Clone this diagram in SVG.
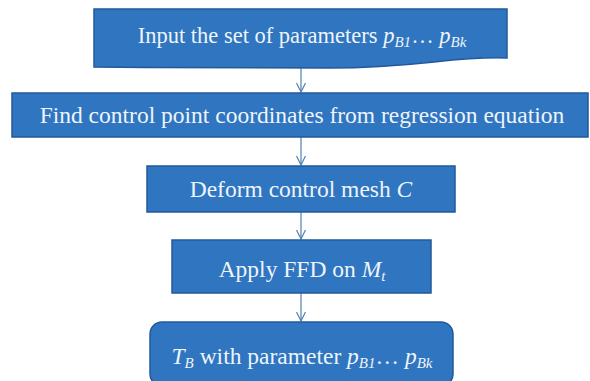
<svg xmlns="http://www.w3.org/2000/svg" width="590" height="381" viewBox="0 0 590 381">
<defs>
<style>
.box{fill:#2f75bf;stroke:#22599a;stroke-width:1.5}
.t{font-family:"Liberation Serif","Times New Roman",serif;font-size:23.5px;fill:#eef4fb;text-anchor:middle}
.i{font-style:italic}
.s{font-size:15px;font-style:italic}
.c{stroke:#4f7fb0;stroke-width:1.2;fill:none}
</style>
<marker id="ah" markerWidth="12" markerHeight="10" refX="10" refY="5" orient="auto" markerUnits="userSpaceOnUse">
<path d="M1,0.5 L10,5 L1,9.5" fill="none" stroke="#4f7fb0" stroke-width="1.2"/>
</marker>
</defs>
<rect width="590" height="381" fill="#ffffff"/>
<g id="connectors">
<line class="c" x1="301" y1="68" x2="301" y2="92" marker-end="url(#ah)"/>
<line class="c" x1="301" y1="137" x2="301" y2="165" marker-end="url(#ah)"/>
<line class="c" x1="301" y1="212" x2="301" y2="239" marker-end="url(#ah)"/>
<line class="c" x1="301" y1="293" x2="301" y2="321" marker-end="url(#ah)"/>
</g>
<g id="n1">
<path class="box" d="M94,9 H507 V58 C450,56 420,68 330,68 C240,68 170,68 94,67 Z"/>
<text class="t" x="302" y="43" style="font-size:22.5px">Input the set of parameters <tspan class="i">p</tspan><tspan class="s" dy="4">B1</tspan><tspan dy="-4">… </tspan><tspan class="i">p</tspan><tspan class="s" dy="4">Bk</tspan></text>
</g>
<g id="n2">
<rect class="box" x="12" y="93" width="576" height="44"/>
<text class="t" x="302" y="123">Find control point coordinates from regression equation</text>
</g>
<g id="n3">
<rect class="box" x="147" y="166" width="308" height="46"/>
<text class="t" x="301" y="197">Deform control mesh <tspan class="i">C</tspan></text>
</g>
<g id="n4">
<rect class="box" x="172" y="240" width="259" height="53"/>
<text class="t" x="302" y="277">Apply FFD on <tspan class="i">M</tspan><tspan class="s" dy="4">t</tspan></text>
</g>
<g id="n5">
<rect class="box" x="150" y="322" width="303" height="64" rx="12"/>
<text class="t" x="302" y="364"><tspan class="i">T</tspan><tspan class="s" dy="4">B</tspan><tspan dy="-4">  with parameter </tspan><tspan class="i">p</tspan><tspan class="s" dy="4">B1</tspan><tspan dy="-4">… </tspan><tspan class="i">p</tspan><tspan class="s" dy="4">Bk</tspan></text>
</g>
</svg>
